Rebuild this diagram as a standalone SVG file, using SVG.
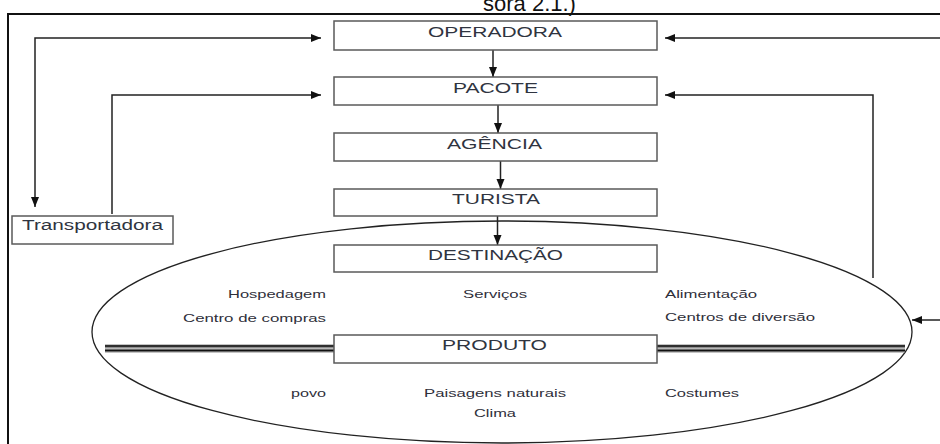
<svg xmlns="http://www.w3.org/2000/svg" width="940" height="444" viewBox="0 0 940 444">
<style>
.box{fill:#fff;stroke:#5a5a5a;stroke-width:1.5}
.lbl{font-family:"Liberation Sans",Arial,sans-serif;font-size:14px;fill:#2f3440}
.sm{font-family:"Liberation Sans",Arial,sans-serif;font-size:10.5px;fill:#2f2f3a}
.con{fill:none;stroke:#222;stroke-width:1.5}
</style>
<defs>
<marker id="ah" markerUnits="userSpaceOnUse" markerWidth="11" markerHeight="9" refX="10" refY="4" orient="auto-start-reverse">
<path d="M0,0 L10,4 L0,8 Z" fill="#111"/>
</marker>
</defs>
<rect x="0" y="0" width="940" height="444" fill="#fff"/>
<text x="483" y="11" font-family="Liberation Sans,Arial,sans-serif" font-size="22" fill="#111">sora 2.1.)</text>
<g id="frame" stroke="#111" stroke-width="2" fill="none">
<line x1="8" y1="14" x2="940" y2="14"/>
<line x1="8" y1="13" x2="8" y2="444"/>
</g>
<g id="ellipse">
<ellipse cx="502" cy="332" rx="410" ry="111" fill="none" stroke="#222" stroke-width="1.3"/>
</g>
<g id="bars">
<line x1="105" y1="348.5" x2="334" y2="348.5" stroke="#8a8a8a" stroke-width="8"/>
<line x1="105" y1="346" x2="334" y2="346" stroke="#111" stroke-width="1.5"/>
<line x1="105" y1="348.4" x2="334" y2="348.4" stroke="#bdbdbd" stroke-width="1"/>
<line x1="105" y1="350.6" x2="334" y2="350.6" stroke="#111" stroke-width="1.5"/>
<line x1="657" y1="348.5" x2="905" y2="348.5" stroke="#8a8a8a" stroke-width="8"/>
<line x1="657" y1="346" x2="905" y2="346" stroke="#111" stroke-width="1.5"/>
<line x1="657" y1="348.4" x2="905" y2="348.4" stroke="#bdbdbd" stroke-width="1"/>
<line x1="657" y1="350.6" x2="905" y2="350.6" stroke="#111" stroke-width="1.5"/>
</g>
<g id="connectors">
<path class="con" d="M493,50 V77" marker-end="url(#ah)"/>
<path class="con" d="M498,105 V133" marker-end="url(#ah)"/>
<path class="con" d="M500.5,161 V189" marker-end="url(#ah)"/>
<path class="con" d="M497.5,216 V245" marker-end="url(#ah)"/>
<path class="con" d="M35,207 V38 H321" marker-start="url(#ah)" marker-end="url(#ah)"/>
<path class="con" d="M112,214 V95 H321" marker-end="url(#ah)"/>
<path class="con" d="M940,38 H665" marker-end="url(#ah)"/>
<path class="con" d="M873,278 V95 H665" marker-end="url(#ah)"/>
<path class="con" d="M940,320 H912" marker-end="url(#ah)"/>
</g>
<g id="operadora"><rect class="box" x="334" y="21" width="323" height="29"/><text class="lbl" x="428" y="37" textLength="134" lengthAdjust="spacingAndGlyphs">OPERADORA</text></g>
<g id="pacote"><rect class="box" x="334" y="77" width="323" height="28"/><text class="lbl" x="453" y="93" textLength="85" lengthAdjust="spacingAndGlyphs">PACOTE</text></g>
<g id="agencia"><rect class="box" x="334" y="133" width="323" height="28"/><text class="lbl" x="447" y="148.5" textLength="95" lengthAdjust="spacingAndGlyphs">AGÊNCIA</text></g>
<g id="turista"><rect class="box" x="334" y="189" width="323" height="27"/><text class="lbl" x="452" y="203.5" textLength="88" lengthAdjust="spacingAndGlyphs">TURISTA</text></g>
<g id="destinacao"><rect class="box" x="334" y="245" width="323" height="27"/><text class="lbl" x="428" y="259.5" textLength="135" lengthAdjust="spacingAndGlyphs">DESTINAÇÃO</text></g>
<g id="produto"><rect class="box" x="334" y="335" width="323" height="28"/><text class="lbl" x="442" y="349.5" textLength="105" lengthAdjust="spacingAndGlyphs">PRODUTO</text></g>
<g id="transportadora"><rect class="box" x="12" y="216" width="161" height="28"/><text class="lbl" x="22" y="230" textLength="141" lengthAdjust="spacingAndGlyphs">Transportadora</text></g>
<g id="labels">
<text class="sm" x="228" y="298" textLength="98" lengthAdjust="spacingAndGlyphs">Hospedagem</text>
<text class="sm" x="183" y="321.5" textLength="143" lengthAdjust="spacingAndGlyphs">Centro de compras</text>
<text class="sm" x="463" y="298" textLength="64" lengthAdjust="spacingAndGlyphs">Serviços</text>
<text class="sm" x="665" y="298" textLength="92" lengthAdjust="spacingAndGlyphs">Alimentação</text>
<text class="sm" x="665" y="320.5" textLength="150" lengthAdjust="spacingAndGlyphs">Centros de diversão</text>
<text class="sm" x="291" y="396.5" textLength="35" lengthAdjust="spacingAndGlyphs">povo</text>
<text class="sm" x="424" y="396.5" textLength="142" lengthAdjust="spacingAndGlyphs">Paisagens naturais</text>
<text class="sm" x="665" y="396.5" textLength="74" lengthAdjust="spacingAndGlyphs">Costumes</text>
<text class="sm" x="474" y="417" textLength="42" lengthAdjust="spacingAndGlyphs">Clima</text>
</g>
</svg>
